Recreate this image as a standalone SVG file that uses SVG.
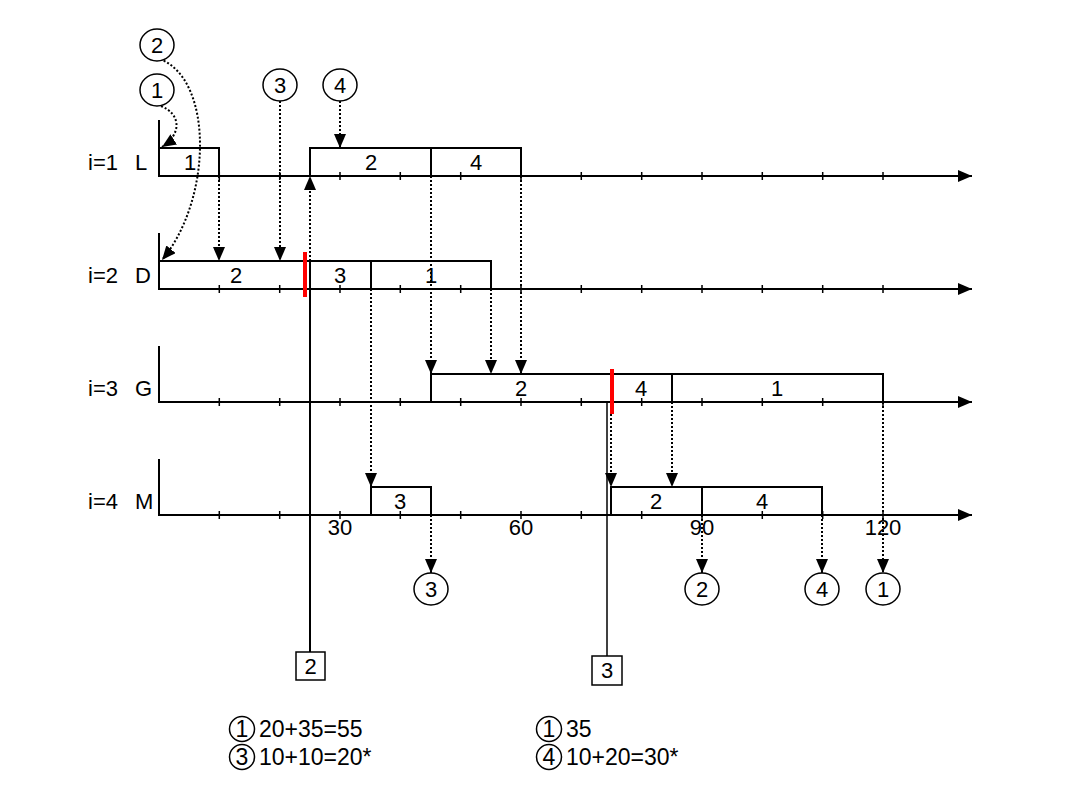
<svg xmlns="http://www.w3.org/2000/svg" xmlns:xlink="http://www.w3.org/1999/xlink" width="1080" height="810" viewBox="0 0 1080 810">
<style>
.ax{stroke:#000;stroke-width:2;fill:none}
.bx{fill:none;stroke:#000;stroke-width:2}
.tk{stroke:#000;stroke-width:1.5;fill:none}
.dot{stroke:#000;stroke-width:2;stroke-dasharray:2 2;fill:none}
.sol{stroke:#000;stroke-width:2;fill:none}
.t{font-family:"Liberation Sans",Arial,sans-serif;font-size:22px;fill:#000}
.lg{font-size:23px}
.m{text-anchor:middle}
.c{fill:#fff;stroke:#000;stroke-width:1.5}
.red{stroke:#f00;stroke-width:4}
</style>
<defs>
<marker id="ah" markerUnits="userSpaceOnUse" markerWidth="14" markerHeight="12" refX="14" refY="6" orient="auto">
<path d="M0,0 L14,6 L0,12 z" fill="#000"/>
</marker>
<path id="ticks" class="tk" d="M219.3-4v8M279.7-4v8M340-4v8M400.3-4v8M460.7-4v8M521-4v8M581.3-4v8M641.7-4v8M702-4v8M762.3-4v8M822.7-4v8M883-4v8"/>
</defs>
<rect width="1080" height="810" fill="#fff"/>

<g id="row-L">
<path class="ax" d="M159 120V176H972" marker-end="url(#ah)"/>
<rect class="bx" x="159" y="148" width="60" height="28"/>
<rect class="bx" x="310" y="148" width="121" height="28"/>
<rect class="bx" x="431" y="148" width="90" height="28"/>
<use xlink:href="#ticks" y="176"/>
<text class="t" x="88" y="170">i=1</text><text class="t" x="135" y="170">L</text>
<text class="t m" x="190" y="170">1</text>
<text class="t m" x="371" y="170">2</text>
<text class="t m" x="476" y="170">4</text>
</g>

<g id="row-D">
<path class="ax" d="M159 233V289H972" marker-end="url(#ah)"/>
<rect class="bx" x="159" y="261" width="151" height="28"/>
<rect class="bx" x="310" y="261" width="61" height="28"/>
<rect class="bx" x="371" y="261" width="120" height="28"/>
<use xlink:href="#ticks" y="289"/>
<text class="t" x="88" y="283">i=2</text><text class="t" x="135" y="283">D</text>
<text class="t m" x="236" y="283">2</text>
<text class="t m" x="340" y="283">3</text>
<text class="t m" x="431" y="283">1</text>
</g>

<g id="row-G">
<path class="ax" d="M159 346V402H972" marker-end="url(#ah)"/>
<rect class="bx" x="431" y="374" width="180" height="28"/>
<rect class="bx" x="611" y="374" width="61" height="28"/>
<rect class="bx" x="672" y="374" width="211" height="28"/>
<use xlink:href="#ticks" y="402"/>
<text class="t" x="88" y="396">i=3</text><text class="t" x="135" y="396">G</text>
<text class="t m" x="521" y="396">2</text>
<text class="t m" x="641" y="396">4</text>
<text class="t m" x="777" y="396">1</text>
</g>

<g id="row-M">
<path class="ax" d="M159 459V515H972" marker-end="url(#ah)"/>
<rect class="bx" x="371" y="487" width="60" height="28"/>
<rect class="bx" x="611" y="487" width="91" height="28"/>
<rect class="bx" x="702" y="487" width="120" height="28"/>
<use xlink:href="#ticks" y="515"/>
<text class="t" x="88" y="509">i=4</text><text class="t" x="135" y="509">M</text>
<text class="t m" x="400" y="509">3</text>
<text class="t m" x="656" y="509">2</text>
<text class="t m" x="762" y="509">4</text>
<text class="t m" x="340" y="535">30</text>
<text class="t m" x="521" y="535">60</text>
<text class="t m" x="702" y="535">90</text>
<text class="t m" x="883" y="535">120</text>
</g>

<g id="connectors">
<path class="dot" d="M161 106C181 114 182 134 162 147" marker-end="url(#ah)"/>
<path class="dot" d="M160 59C214 80 212 200 162 260" marker-end="url(#ah)"/>
<path class="dot" d="M280 101V261" marker-end="url(#ah)"/>
<path class="dot" d="M340 101V148" marker-end="url(#ah)"/>
<path class="dot" d="M219 176V261" marker-end="url(#ah)"/>
<path class="dot" d="M310 261V176" marker-end="url(#ah)"/>
<path class="sol" d="M310 289V652"/>
<path class="dot" d="M431 176V374" marker-end="url(#ah)"/>
<path class="dot" d="M521 176V374" marker-end="url(#ah)"/>
<path class="dot" d="M491 289V374" marker-end="url(#ah)"/>
<path class="dot" d="M371 289V487" marker-end="url(#ah)"/>
<path class="dot" d="M431 515V573" marker-end="url(#ah)"/>
<path class="dot" d="M611 414V487" marker-end="url(#ah)"/>
<path class="sol" d="M607 402V656" style="stroke-width:1.5"/>
<path class="dot" d="M672 402V487" marker-end="url(#ah)"/>
<path class="dot" d="M702 515V573" marker-end="url(#ah)"/>
<path class="dot" d="M822 515V573" marker-end="url(#ah)"/>
<path class="dot" d="M883 402V573" marker-end="url(#ah)"/>
</g>

<g id="cut-D"><line class="red" x1="305" y1="252" x2="305" y2="297"/></g>
<g id="cut-G"><line class="red" x1="612" y1="369" x2="612" y2="414"/></g>

<g id="c2-top"><ellipse class="c" cx="157" cy="45" rx="17" ry="16"/><text class="t m" x="157" y="53">2</text></g>
<g id="c1-top"><ellipse class="c" cx="157" cy="90" rx="17" ry="16"/><text class="t m" x="157" y="98">1</text></g>
<g id="c3-top"><ellipse class="c" cx="280" cy="85" rx="17" ry="16"/><text class="t m" x="280" y="93">3</text></g>
<g id="c4-top"><ellipse class="c" cx="340" cy="85" rx="17" ry="16"/><text class="t m" x="340" y="93">4</text></g>

<g id="c3-bot"><ellipse class="c" cx="431" cy="589" rx="17" ry="16"/><text class="t m" x="431" y="597">3</text></g>
<g id="c2-bot"><ellipse class="c" cx="702" cy="589" rx="17" ry="16"/><text class="t m" x="702" y="597">2</text></g>
<g id="c4-bot"><ellipse class="c" cx="822" cy="589" rx="17" ry="16"/><text class="t m" x="822" y="597">4</text></g>
<g id="c1-bot"><ellipse class="c" cx="883" cy="589" rx="17" ry="16"/><text class="t m" x="883" y="597">1</text></g>

<g id="sq2"><rect x="296" y="652" width="29" height="28" fill="#fff" stroke="#000" stroke-width="1.5"/><text class="t m" x="310.5" y="674">2</text></g>
<g id="sq3"><rect x="592" y="656" width="30" height="29" fill="#fff" stroke="#000" stroke-width="1.5"/><text class="t m" x="607" y="678">3</text></g>

<g id="legend-left">
<circle class="c" cx="242" cy="729" r="12.5"/><text class="t lg m" x="242" y="737">1</text>
<text class="t lg" x="259" y="737">20+35=55</text>
<circle class="c" cx="242" cy="757" r="12.5"/><text class="t lg m" x="242" y="765">3</text>
<text class="t lg" x="259" y="765">10+10=20*</text>
</g>
<g id="legend-right">
<circle class="c" cx="549" cy="729" r="12.5"/><text class="t lg m" x="549" y="737">1</text>
<text class="t lg" x="566" y="737">35</text>
<circle class="c" cx="549" cy="757" r="12.5"/><text class="t lg m" x="549" y="765">4</text>
<text class="t lg" x="566" y="765">10+20=30*</text>
</g>
</svg>
